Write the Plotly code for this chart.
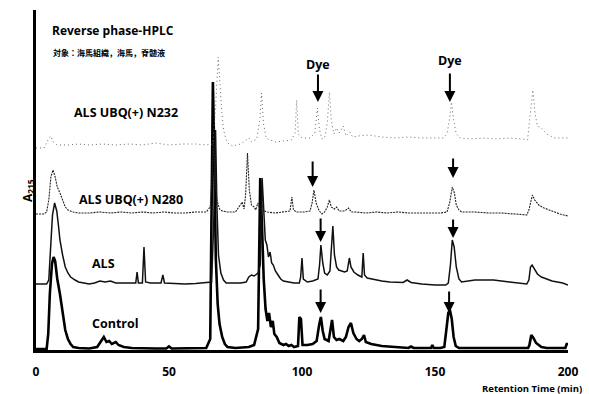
import plotly.graph_objects as go

# Retention time (min) and detector response (above each trace's own baseline)
control_t = [0, 4, 4.6, 5.2, 6, 6.6, 7.2, 8, 9, 10, 11, 12, 13, 14, 16, 20, 23, 24.5, 25.5, 26.5, 27.5,
             28.5, 30, 31, 33, 36, 40, 45, 49, 50, 51, 55, 60, 64, 65.5, 66, 66.5, 67, 67.6, 68.3, 69,
             70, 71, 72, 75, 80, 82, 83.5, 84.3, 85, 85.6, 86.3, 87, 87.6, 88.3, 89, 89.6, 90.5, 91.5,
             93, 94, 95, 96, 97, 98.5, 99, 99.6, 100.2, 102, 104, 105.5, 106.5, 107.1, 107.8, 108.5,
             110, 110.8, 111.3, 112, 113, 114, 115.5, 116.5, 117.5, 118.4, 119.3, 120.5, 121.5, 122.5,
             123.3, 124, 126, 128, 130, 135, 140, 141, 142, 145, 148.5, 149, 149.5, 152, 153.5, 154.3,
             155, 155.6, 156.3, 157, 157.8, 159, 165, 175, 185, 185.5, 186.2, 187, 188, 189, 190, 192,
             195, 199, 199.5, 200]
control_v = [0, 0, 15, 55, 85, 92, 88, 70, 55, 35, 19, 10, 5, 2, 1, 0.5, 2, 8, 12, 7, 8,
             5, 7, 4, 2, 1, 0.5, 0.5, 0.5, 2.5, 0.5, 0.5, 0.5, 1, 10, 120, 267, 200, 90, 45, 25,
             12, 5, 2, 1, 2, 4, 20, 171, 120, 70, 40, 28, 36, 22, 28, 15, 12, 6,
             4, 5, 3, 4, 2, 3, 32, 30, 4, 4, 5, 8, 25, 32, 18, 10,
             8, 20, 29, 12, 9, 10, 8, 12, 22, 26, 16, 10, 8, 10,
             14, 7, 5, 4, 3, 2, 1, 2.5, 1, 1, 1, 4, 1, 1, 2, 20,
             36, 39, 30, 12, 3, 1, 1, 1, 1, 4, 14, 11, 6, 4, 2, 1,
             1, 1, 5, 5]

als_t = [0, 4, 4.8, 5.5, 6.2, 7, 7.8, 8.5, 9, 10, 11, 12, 13, 14.7, 16, 18, 20, 22, 24, 26, 28, 30,
         33, 36, 37.5, 38, 38.5, 40, 40.6, 41.2, 43, 47, 47.7, 48.3, 52, 56, 60, 64, 66, 66.8, 67.5,
         68, 68.6, 69.5, 70.5, 71.5, 74, 77, 79, 80, 81, 82, 83.5, 84.3, 85, 85.6, 86.2, 86.8, 87.4,
         88, 88.6, 89.2, 90, 91, 92, 93, 95, 97, 99, 99.5, 100, 100.5, 102, 104, 106, 106.6, 107.1,
         107.8, 108.5, 109.5, 110.5, 111.1, 111.6, 112.2, 113, 113.8, 115, 116, 117, 117.8, 118.4,
         119.5, 121, 122.5, 123, 123.5, 124.5, 126, 128, 130, 133, 136, 138, 139.5, 141, 145, 150,
         154, 155, 155.8, 156.5, 157.2, 158, 159, 160, 165, 172, 178, 184.5, 185.3, 185.9, 186.5,
         187.3, 188.5, 190, 192, 194, 196, 198, 200]
als_v = [1, 1, 5, 45, 70, 82, 74, 58, 45, 30, 18, 12, 8, 5, 3, 2, 1, 2, 4, 3, 4, 2,
         2, 1.5, 2, 13, 2, 2, 38, 3, 2, 2, 10, 2, 1.5, 1, 1.5, 2, 3, 60, 155,
         80, 30, 12, 5, 2, 2, 2, 3, 8, 10, 9, 12, 20, 107, 70, 45, 40, 28,
         33, 22, 20, 14, 10, 6, 4, 3, 2, 2, 8, 27, 6, 3, 4, 6, 20, 40,
         22, 12, 10, 14, 45, 59, 30, 18, 15, 14, 13, 14, 27, 18,
         13, 10, 8, 32, 10, 7, 6, 5, 4, 3, 3, 2.5, 5, 2.5, 1, 0,
         0, 2, 20, 45, 38, 18, 6, 3, 5, 5, 3, 1, 5, 18, 20,
         16, 11, 8, 6, 4, 3, 2, 0]

n280_t = [0, 3, 4, 4.8, 5.6, 6.4, 7.2, 8, 9, 10, 11, 12, 14, 16, 20, 24, 28, 32, 36, 40, 44, 48, 52,
          56, 60, 64, 65.5, 66.2, 66.7, 67.3, 68, 69, 70, 72, 75, 76.8, 77.5, 78.2, 78.8, 79.5, 80.2,
          81, 82, 82.6, 83.4, 84.2, 85, 85.7, 87, 90, 93, 95.5, 96.2, 96.8, 98, 101, 103, 103.8, 104.5,
          105.3, 106.5, 107.5, 108.5, 109.5, 110.3, 111, 112.2, 113, 114, 116, 117.5, 118.5, 120, 124,
          128, 132, 136, 140, 144, 148, 152, 154.5, 155.5, 156.5, 157.3, 158, 159, 160, 165, 170, 175,
          180, 184.5, 185.3, 186, 186.6, 187.5, 189, 191, 194, 197, 200]
n280_v = [1, 1, 3, 15, 38, 45, 38, 28, 22, 14, 8, 5, 3, 2, 2, 3, 2, 3, 2, 3, 2, 3, 2,
          2, 3, 3, 8, 40, 75, 40, 15, 6, 4, 3, 3, 10, 13, 6, 20, 62, 25,
          10, 8, 5, 12, 6, 10, 4, 3, 2, 3, 4, 18, 5, 3, 3, 4, 12, 25,
          12, 4, 1, 3, 8, 15, 8, 6, 8, 4, 4, 7, 3, 3, 2,
          3, 2, 3, 2, 2, 2, 2, 3, 12, 28, 22, 10, 5, 3, 3, 2, 2,
          1, 0, 5, 15, 20, 15, 10, 7, 4, 1, -1]

n232_t = [0, 3, 4.5, 5.5, 6.5, 8, 12, 16, 20, 25, 30, 35, 40, 45, 50, 55, 60, 64, 66.5, 67.5, 68.5,
          69.2, 69.8, 70.5, 71.5, 72.5, 74, 77, 79, 80, 81, 83, 84.2, 84.8, 85.5, 86.5, 88, 90, 93, 96,
          97.4, 98, 98.6, 100, 103, 104.8, 105.8, 106.6, 107.5, 108.5, 109.5, 110.3, 111, 112, 113,
          114, 115.5, 116.5, 118, 119, 121, 125, 130, 135, 140, 145, 150, 153, 154.5, 155.5, 156.2,
          157, 158, 159.5, 163, 168, 173, 178, 183, 184.8, 185.5, 186.3, 186.8, 187.6, 188.5, 190,
          192, 195, 198, 200]
n232_v = [0, 0, 8, 12, 6, 3, 3, 4, 3, 4, 3, 4, 3, 5, 3, 4, 4, 3, 4, 40, 91,
          55, 38, 18, 8, 4, 2, 4, 8, 10, 6, 9, 30, 55, 25, 10, 8, 6, 7, 8,
          15, 48, 14, 10, 10, 15, 40, 18, 9, 10, 25, 56, 28, 14, 20,
          15, 22, 12, 16, 11, 12, 13, 11, 10, 11, 10, 10, 10, 14, 30, 46,
          28, 14, 10, 9, 10, 9, 10, 9, 8, 26, 50, 58, 35, 22, 20,
          14, 10, 10, 10]

trace_names = ["Control", "ALS", "ALS UBQ(+) N280", "ALS UBQ(+) N232"]
x_ticks = [0, 50, 100, 150, 200]

# Vertical stacking of the chromatograms (baseline of each run)
offsets = [0, 64, 134, 201]
styles = [
    dict(color="#000000", width=2.6),
    dict(color="#111111", width=1.5),
    dict(color="#222222", width=1.1, dash="2px,1px"),
    dict(color="#6a6a6a", width=1.0, dash="1px,3px"),
]
series = [(control_t, control_v), (als_t, als_v), (n280_t, n280_v), (n232_t, n232_v)]

fig = go.Figure()
for (t, v), off, st, name in zip(series, offsets, styles, trace_names):
    fig.add_trace(go.Scatter(x=t, y=[val + off for val in v], mode="lines",
                             line=st, name=name, showlegend=False))

label_font = dict(family="Open Sans", size=12.5, color="#000", weight="bold")

# Trace labels, anchored at their left edge
label_pos = [(20.3, 26), (20.3, 86), (15.4, 150), (13.5, 237)]
for name, (lx, ly) in zip(trace_names, label_pos):
    fig.add_annotation(x=lx, y=ly, text=name, showarrow=False, xanchor="left", font=label_font)

# Dye markers: (time, tip value, shaft length in px)
dye_arrows = [(106, 247, 29), (155.6, 247, 30), (104, 162, 27), (156.8, 171, 21),
              (107, 107, 25), (156.8, 111, 20), (107, 36, 25), (155.3, 36, 23)]
for ax_t, tip, ln in dye_arrows:
    fig.add_annotation(x=ax_t, y=tip, ax=0, ay=-ln, text="", showarrow=True,
                       arrowhead=2, arrowsize=1.1, arrowwidth=2, arrowcolor="#000")
fig.add_annotation(x=106, y=285, text="Dye", showarrow=False, font=label_font)
fig.add_annotation(x=155.6, y=289, text="Dye", showarrow=False, font=label_font)

fig.add_annotation(x=5.3, y=319, text="Reverse phase-HPLC", showarrow=False, xanchor="left",
                   font=dict(family="Open Sans", size=12, color="#000", weight="bold"))
fig.add_annotation(x=5.6, y=297, text="対象：海馬組織，海馬，脊髄液", showarrow=False, xanchor="left",
                   font=dict(family="Noto Sans CJK JP", size=8, color="#000", weight="bold"))

fig.add_annotation(xref="paper", yref="paper", x=1.03, y=-0.114, xanchor="right", yanchor="middle",
                   text="Retention Time (min)", showarrow=False,
                   font=dict(family="Open Sans", size=9.5, color="#000", weight="bold"))
fig.add_annotation(xref="paper", yref="paper", x=-0.036, y=0.47, textangle=-90,
                   text="A<sub>215</sub>", showarrow=False,
                   font=dict(family="Open Sans", size=12, color="#000", weight="bold"))

fig.update_layout(
    width=589, height=394,
    margin=dict(l=36, r=21, t=10, b=44),
    paper_bgcolor="white", plot_bgcolor="white",
    xaxis=dict(range=[0, 200], tickvals=x_ticks, ticks="", showgrid=False, zeroline=False,
               showline=True, linewidth=3, linecolor="#000", ticklabelstandoff=9,
               tickfont=dict(family="Open Sans", size=12, color="#000", weight="bold")),
    yaxis=dict(range=[-1, 339], showticklabels=False, ticks="", showgrid=False, zeroline=False,
               showline=True, linewidth=3, linecolor="#000"),
)

fig.write_html("out.html")
